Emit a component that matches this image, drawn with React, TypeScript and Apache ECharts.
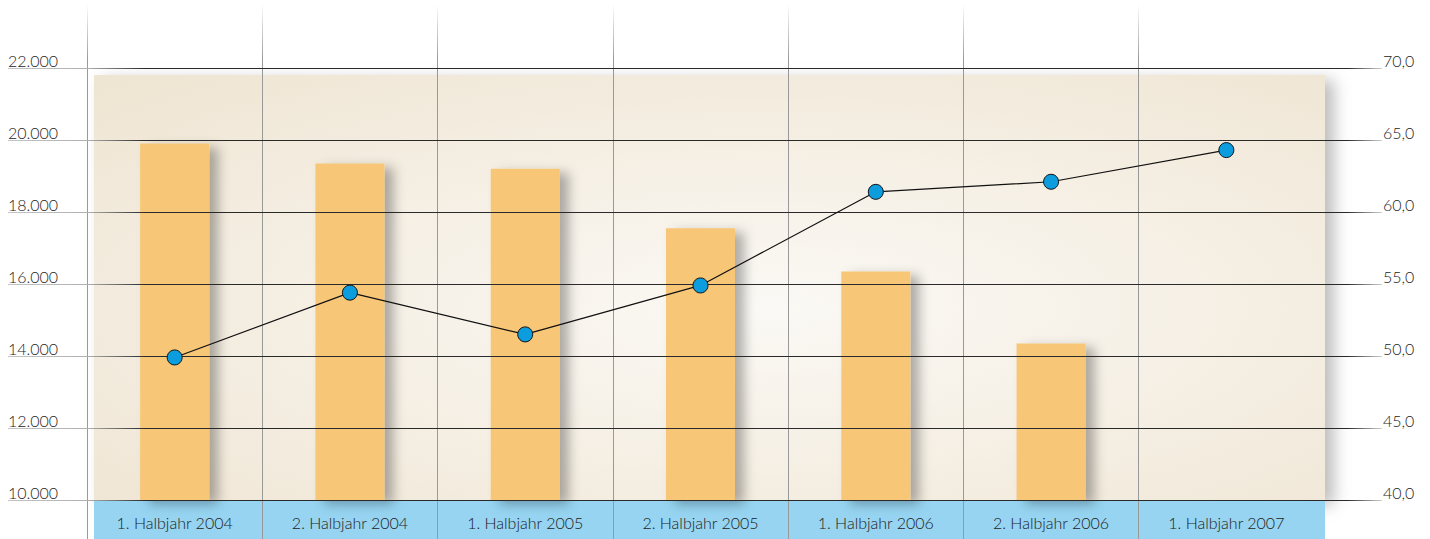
import React, { useEffect, useRef } from "react";
import * as echarts from "echarts";

const categories = [
  "1. Halbjahr 2004",
  "2. Halbjahr 2004",
  "1. Halbjahr 2005",
  "2. Halbjahr 2005",
  "1. Halbjahr 2006",
  "2. Halbjahr 2006",
  "1. Halbjahr 2007",
];
const barValues: (number | null)[] = [19900, 19350, 19200, 17550, 16350, 14350, null];
const lineValues = [49.9, 54.4, 51.5, 54.9, 61.4, 62.1, 64.3];

const leftMin = 10000;
const leftMax = 22000;
const leftInterval = 2000;
const rightMin = 40;
const rightMax = 70;
const rightInterval = 5;

const FONT = "Lato, 'Open Sans', sans-serif";
const TEXT_COLOR = "#1c1c1c";

export default function App() {
  const ref = useRef<HTMLDivElement>(null);
  useEffect(() => {
    document.body.style.margin = "0";
    const chart = echarts.init(ref.current!, undefined, { renderer: "svg" });
    const hGrad = {
      type: "linear",
      x: 8,
      y: 0,
      x2: 1382,
      y2: 0,
      global: true,
      colorStops: [
        { offset: 0, color: "#c4c4c4" },
        { offset: 0.058, color: "#b0b0b0" },
        { offset: 0.1, color: "#2a2a2a" },
        { offset: 0.975, color: "#2a2a2a" },
        { offset: 1, color: "#d0d0d0" },
      ],
    };
    const vGrad = {
      type: "linear",
      x: 0,
      y: 4,
      x2: 0,
      y2: 60,
      global: true,
      colorStops: [
        { offset: 0, color: "rgba(150,150,150,0)" },
        { offset: 1, color: "#999999" },
      ],
    };
    chart.setOption({
      animation: false,
      textStyle: { fontFamily: FONT },
      graphic: [
        {
          type: "rect",
          z: -10,
          shape: { x: 94, y: 75, width: 1231, height: 425 },
          style: {
            fill: {
              type: "radial",
              x: 0.55,
              y: 0.55,
              r: 0.75,
              colorStops: [
                { offset: 0, color: "#fbf9f5" },
                { offset: 1, color: "#efe5d3" },
              ],
            },
            shadowBlur: 16,
            shadowOffsetX: 9,
            shadowOffsetY: 5,
            shadowColor: "rgba(0,0,0,0.26)",
          },
        },
        {
          type: "rect",
          z: -9,
          shape: { x: 94, y: 500, width: 1231, height: 39 },
          style: { fill: "#96d4f1" },
        },
      ],
      grid: [
        { left: 87, right: 116, top: 68, bottom: 39 },
        { left: 8, right: 48, top: 68, bottom: 39 },
        { left: 87, right: 116, top: 4, bottom: 0 },
      ],
      xAxis: [
        {
          type: "category",
          gridIndex: 0,
          data: categories,
          axisLine: { show: false },
          axisTick: { show: false },
          splitLine: { show: false },
          axisLabel: {
            interval: 0,
            margin: 14,
            color: TEXT_COLOR,
            fontSize: 16,
            fontWeight: 300,
            fontFamily: FONT,
          },
          z: 4,
        },
        {
          type: "value",
          gridIndex: 1,
          show: false,
        },
        {
          type: "category",
          gridIndex: 2,
          data: categories,
          axisLine: { show: false },
          axisTick: { show: false },
          axisLabel: { show: false },
          splitLine: {
            show: true,
            interval: 0,
            showMaxLine: false,
            lineStyle: { color: vGrad, width: 1 },
          },
          z: 1,
        },
      ],
      yAxis: [
        {
          type: "value",
          gridIndex: 0,
          min: leftMin,
          max: leftMax,
          interval: leftInterval,
          show: false,
        },
        {
          type: "value",
          gridIndex: 0,
          min: rightMin,
          max: rightMax,
          interval: rightInterval,
          show: false,
        },
        {
          type: "value",
          gridIndex: 1,
          position: "left",
          min: leftMin,
          max: leftMax,
          interval: leftInterval,
          axisLine: { show: false },
          axisTick: { show: false },
          axisLabel: {
            inside: true,
            margin: 0,
            align: "left",
            verticalAlign: "bottom",
            lineHeight: 16,
            color: TEXT_COLOR,
            fontSize: 16,
            fontWeight: 300,
            fontFamily: FONT,
            formatter: (v: number) => v.toLocaleString("de-DE"),
          },
          splitLine: { show: true, lineStyle: { color: hGrad, width: 1 } },
          z: 3,
        },
        {
          type: "value",
          gridIndex: 1,
          position: "right",
          min: rightMin,
          max: rightMax,
          interval: rightInterval,
          axisLine: { show: false },
          axisTick: { show: false },
          splitLine: { show: false },
          axisLabel: {
            margin: 1,
            align: "left",
            verticalAlign: "bottom",
            lineHeight: 16,
            color: TEXT_COLOR,
            fontSize: 16,
            fontWeight: 300,
            fontFamily: FONT,
            formatter: (v: number) => v.toFixed(1).replace(".", ","),
          },
          z: 3,
        },
        {
          type: "value",
          gridIndex: 2,
          show: false,
        },
      ],
      series: [
        {
          type: "bar",
          xAxisIndex: 0,
          yAxisIndex: 0,
          data: barValues,
          barWidth: 69,
          z: 2,
          itemStyle: {
            color: "#f7c677",
            shadowBlur: 12,
            shadowOffsetX: 9,
            shadowOffsetY: 4,
            shadowColor: "rgba(0,0,0,0.3)",
          },
        },
        {
          type: "line",
          xAxisIndex: 0,
          yAxisIndex: 1,
          data: lineValues,
          z: 10,
          symbol: "circle",
          symbolSize: 15,
          lineStyle: { color: "#111111", width: 1.2 },
          itemStyle: { color: "#0c9ddf", borderColor: "#111111", borderWidth: 1 },
        },
      ],
    });
    return () => chart.dispose();
  }, []);
  return (
    <div
      ref={ref}
      style={{ width: 1430, height: 539, position: "absolute", left: 0, top: 0 }}
    />
  );
}
